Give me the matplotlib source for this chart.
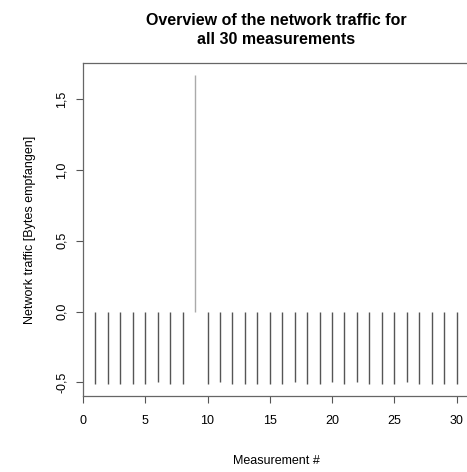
import numpy as np
import matplotlib.pyplot as plt

plt.rcParams['font.family'] = ['Liberation Sans', 'DejaVu Sans']

# DATA (TYPE "h" SPIKES FROM 0)
measurement = list(range(1, 31))
traffic = [-0.51, -0.51, -0.51, -0.51, -0.51, -0.50, -0.51, -0.51, 1.67, -0.51,
           -0.50, -0.51, -0.51, -0.51, -0.51, -0.51, -0.50, -0.51, -0.51, -0.50,
           -0.51, -0.50, -0.51, -0.51, -0.51, -0.50, -0.51, -0.51, -0.51, -0.51]
highlight = 9

fig = plt.figure(figsize=(4.67, 4.72), dpi=100)
ax = fig.add_axes([83 / 467, 1 - 396 / 472, 386 / 467, 333 / 472])

for m, v in zip(measurement, traffic):
    col = '#aaaaaa' if m == highlight else '#555555'
    ax.vlines(m, 0, v, color=col, linewidth=1.0)

ymin, ymax = min(traffic), max(traffic)
pad = 0.04 * (ymax - ymin)
ax.set_ylim(ymin - pad, ymax + pad)
ax.set_xlim(0, 31)

ax.set_xticks([0, 5, 10, 15, 20, 25, 30])
ax.set_yticks([-0.5, 0.0, 0.5, 1.0, 1.5])
ax.set_yticklabels(['-0,5', '0,0', '0,5', '1,0', '1,5'], rotation=90, va='center')
ax.tick_params(axis='both', labelsize=9, length=5, width=0.8, color='#555555',
               direction='out')
ax.tick_params(axis='x', pad=9)
ax.tick_params(axis='y', pad=6)

for s in ax.spines.values():
    s.set_color('#666666')
    s.set_linewidth(0.9)

ax.set_xlabel('Measurement #', fontsize=9, labelpad=20)
ax.set_ylabel('Network traffic [Bytes empfangen]', fontsize=9, labelpad=14)
ax.set_title('Overview of the network traffic for\nall 30 measurements',
             fontsize=11.5, fontweight='bold', pad=14, linespacing=1.3)

fig.savefig('out.png', dpi=100)
